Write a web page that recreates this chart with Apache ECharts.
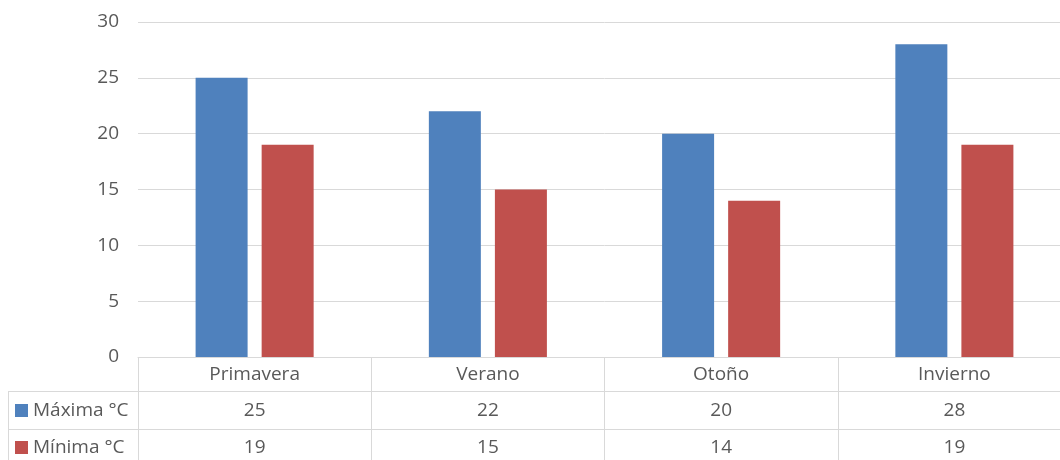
<!DOCTYPE html>
<html>
<head>
<meta charset="utf-8">
<script src="https://cdn.jsdelivr.net/npm/echarts@6/dist/echarts.min.js"></script>
<style>
  html, body { margin: 0; padding: 0; background: #fff; overflow: hidden; }
  #chart { width: 1071px; height: 460px; }
</style>
</head>
<body>
<div id="chart"></div>
<script>
// Temperaturas por estación
const estaciones = ['Primavera', 'Verano', 'Otoño', 'Invierno'];
const maxima = [25, 22, 20, 28];
const minima = [19, 15, 14, 19];
const nombreMax = 'Máxima °C';
const nombreMin = 'Mínima °C';
const yTicks = { min: 0, max: 30, interval: 5 };

const FONT = 'Open Sans';
const FS = 19;
const TEXT = '#595959';
const LINE = '#d9d9d9';
const BLUE = '#4f81bd';
const RED = '#c0504d';

const chart = echarts.init(document.getElementById('chart'));

// One category axis per table row: header, then each series' values
function tableAxis(data, offset, tickLen, margin) {
  return {
    type: 'category',
    position: 'bottom',
    offset: offset,
    data: data,
    axisLine: { show: true, lineStyle: { color: LINE, width: 1 } },
    axisTick: { show: true, length: tickLen, lineStyle: { color: LINE, width: 1 } },
    axisLabel: { show: true, margin: margin, color: TEXT, fontFamily: FONT, fontSize: FS, interval: 0 },
    splitLine: { show: false }
  };
}

// Legend key of one table row
function rowKey(name, top) {
  return {
    orient: 'vertical',
    left: 15,
    top: top,
    padding: 0,
    itemWidth: 13,
    itemHeight: 13,
    icon: 'rect',
    textStyle: { color: TEXT, fontSize: FS, fontFamily: FONT, padding: [0, 0, 0, 0] },
    data: [name]
  };
}

chart.setOption({
  animation: false,
  textStyle: { fontFamily: FONT },
  grid: { left: 138, right: 0, top: 22, bottom: 103 },
  legend: [rowKey(nombreMax, 401), rowKey(nombreMin, 438)],
  xAxis: [
    tableAxis(estaciones, 0, 34, 8),
    tableAxis(maxima.map(String), 34, 38, 10),
    tableAxis(minima.map(String), 72, 40, 9)
  ],
  yAxis: {
    type: 'value',
    min: yTicks.min,
    max: yTicks.max,
    interval: yTicks.interval,
    axisLine: { show: false },
    axisTick: { show: false },
    axisLabel: { color: TEXT, fontSize: FS, fontFamily: FONT, margin: 19 },
    splitLine: { lineStyle: { color: LINE, width: 1 } }
  },
  series: [
    {
      name: nombreMax,
      type: 'bar',
      xAxisIndex: 0,
      data: maxima,
      barWidth: 52,
      barGap: '27%',
      itemStyle: { color: BLUE }
    },
    {
      name: nombreMin,
      type: 'bar',
      xAxisIndex: 0,
      data: minima,
      barWidth: 52,
      barGap: '27%',
      itemStyle: { color: RED }
    }
  ],
  graphic: [
    // left column borders of the data table
    { type: 'line', shape: { x1: 8, y1: 391.5, x2: 138, y2: 391.5 }, style: { stroke: LINE, lineWidth: 1 } },
    { type: 'line', shape: { x1: 8, y1: 429.5, x2: 138, y2: 429.5 }, style: { stroke: LINE, lineWidth: 1 } },
    { type: 'line', shape: { x1: 8.5, y1: 391, x2: 8.5, y2: 460 }, style: { stroke: LINE, lineWidth: 1 } }
  ]
});
</script>
</body>
</html>
